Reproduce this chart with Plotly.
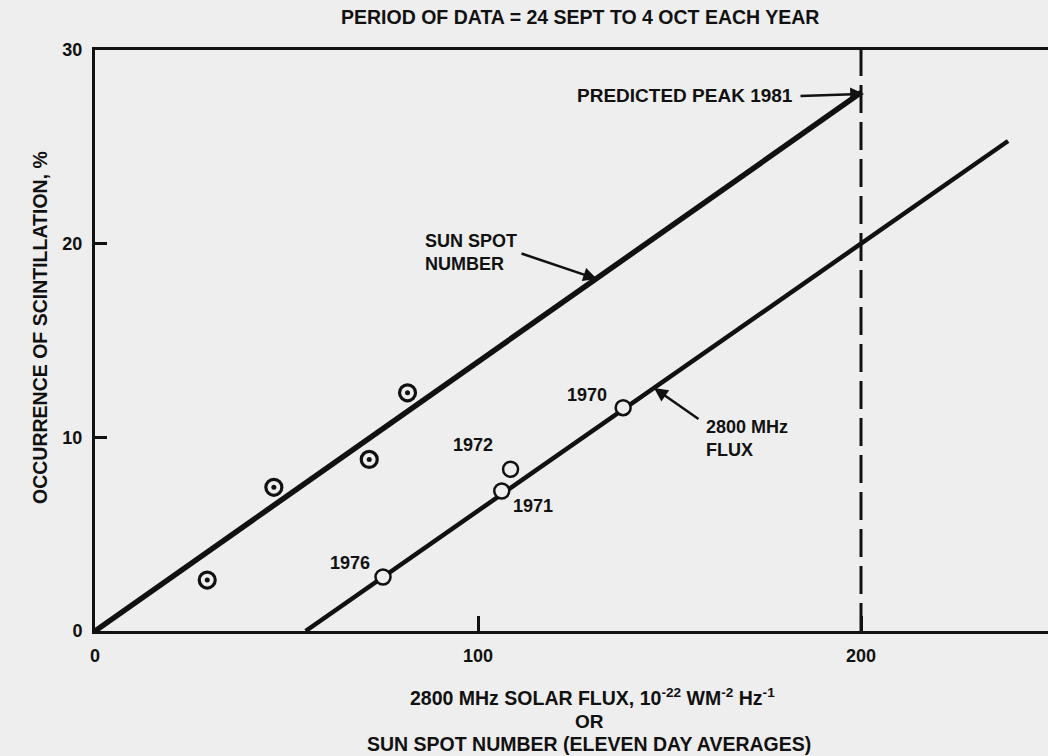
import plotly.graph_objects as go

# ---- data ----
sunspot_line_x = [0, 200]
sunspot_line_y = [0, 27.8]
flux_line_x = [55, 238.4]
flux_line_y = [0, 25.3]

sunspot_pts_x = [29.3, 46.7, 71.6, 81.6]
sunspot_pts_y = [2.63, 7.42, 8.86, 12.3]

flux_years = ["1976", "1971", "1972", "1970"]
flux_pts_x = [75.2, 106.2, 108.5, 137.9]
flux_pts_y = [2.79, 7.23, 8.35, 11.53]

peak_x = [200, 200]
peak_y = [0, 30]

x_ticks = [0, 100, 200]
y_ticks = [0, 10, 20, 30]

BG = "#eeeeee"
INK = "#111111"
FONT = "Liberation Sans, Arial, sans-serif"

# plot area in page pixels: left 95, right 1048, top 50, bottom 631
PL, PR, PT, PB = 95, 1048, 50, 631
W, H = 1048, 756

fig = go.Figure()

fig.add_trace(go.Scatter(x=peak_x, y=peak_y, mode="lines",
                         line=dict(color=INK, width=3, dash="28px,9px"),
                         hoverinfo="skip", showlegend=False))
fig.add_trace(go.Scatter(x=sunspot_line_x, y=sunspot_line_y, mode="lines",
                         line=dict(color=INK, width=5.5), showlegend=False))
fig.add_trace(go.Scatter(x=flux_line_x, y=flux_line_y, mode="lines",
                         line=dict(color=INK, width=4.5), showlegend=False))
# sunspot points: ring with centre dot
fig.add_trace(go.Scatter(x=sunspot_pts_x, y=sunspot_pts_y, mode="markers",
                         marker=dict(symbol="circle", size=16, color=BG,
                                     line=dict(color=INK, width=3.2)),
                         showlegend=False))
fig.add_trace(go.Scatter(x=sunspot_pts_x, y=sunspot_pts_y, mode="markers",
                         marker=dict(symbol="circle", size=5, color=INK),
                         showlegend=False))
# flux points: open circles
fig.add_trace(go.Scatter(x=flux_pts_x, y=flux_pts_y, mode="markers",
                         marker=dict(symbol="circle", size=15, color=BG,
                                     line=dict(color=INK, width=2.5)),
                         text=flux_years, showlegend=False))

def px2x(px):
    return (px - PL) / 3.83

def py2y(py):
    return (PB - py) / ((PB - PT) / 30)

def ppx(px):
    return (px - PL) / (PR - PL)

def ppy(py):
    return (PB - py) / (PB - PT)

ann = []
def text(px, py, t, size=19, xanchor="center", align="center", angle=0):
    ann.append(dict(x=ppx(px), y=ppy(py), xref="paper", yref="paper", text=t,
                    showarrow=False, xanchor=xanchor, yanchor="middle",
                    align=align, textangle=angle,
                    font=dict(family=FONT, size=size, color=INK)))

def arrow(x0, y0, x1, y1):
    ann.append(dict(x=px2x(x1), y=py2y(y1), ax=px2x(x0), ay=py2y(y0),
                    xref="x", yref="y", axref="x", ayref="y", text="",
                    showarrow=True, arrowhead=2, arrowsize=1.1, arrowwidth=2.5,
                    arrowcolor=INK, standoff=0, startstandoff=0))

text(580, 17, "<b>PERIOD OF DATA = 24 SEPT TO 4 OCT EACH YEAR</b>", size=19.5)
text(795, 95, "<b>PREDICTED PEAK 1981</b>", size=19, xanchor="right")
arrow(799, 96, 864, 94)
text(423, 252, "<b>SUN SPOT<br>NUMBER</b>", size=18, xanchor="left", align="left")
arrow(520, 253, 597, 279)
text(704, 438, "<b>2800 MHz<br>FLUX</b>", size=18, xanchor="left", align="left")
arrow(700, 420, 654, 388)
year_pos = {"1976": (350, 563), "1971": (533, 506), "1972": (473, 445), "1970": (587, 395)}
for yr in flux_years:
    px, py = year_pos[yr]
    text(px, py, "<b>" + yr + "</b>", size=18)

text(592, 697, "<b>2800 MHz SOLAR FLUX, 10<sup>-22</sup> WM<sup>-2</sup> Hz<sup>-1</sup></b>", size=19.5)
text(589, 721, "<b>OR</b>", size=19)
text(589, 744, "<b>SUN SPOT NUMBER (ELEVEN DAY AVERAGES)</b>", size=19.5)
text(40, 328, "<b>OCCURRENCE OF SCINTILLATION, %</b>", size=19.5, angle=-90)

fig.update_layout(
    width=W, height=H,
    margin=dict(l=PL, r=W - PR, t=PT, b=H - PB),
    paper_bgcolor=BG, plot_bgcolor=BG,
    annotations=ann,
    font=dict(family=FONT, size=18, color=INK),
    xaxis=dict(range=[0, (PR - PL) / 3.83], tickvals=x_ticks,
               ticktext=["<b>%d</b>" % v for v in x_ticks],
               ticks="inside", ticklen=15, tickwidth=3, tickcolor=INK,
               showline=True, linewidth=3, linecolor=INK, mirror=True,
               showgrid=False, zeroline=False, ticklabelstandoff=6,
               tickfont=dict(size=18)),
    yaxis=dict(range=[0, 30], tickvals=y_ticks,
               ticktext=["<b>%d</b>" % v for v in y_ticks],
               ticks="inside", ticklen=12, tickwidth=3, tickcolor=INK,
               showline=True, linewidth=3, linecolor=INK, mirror=False,
               showgrid=False, zeroline=False, ticklabelstandoff=6,
               tickfont=dict(size=18)),
)

fig.write_html("out.html",
               config={"displayModeBar": False},
               post_script="document.body.style.margin='0px';"
                           "document.body.style.overflow='hidden';"
                           "document.body.style.background='" + BG + "';")
